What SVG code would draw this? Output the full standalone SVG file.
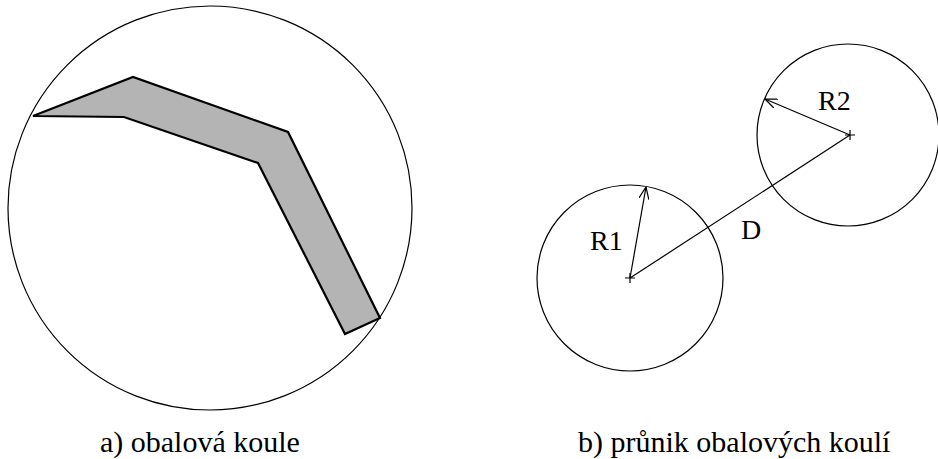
<svg xmlns="http://www.w3.org/2000/svg" width="938" height="459" viewBox="0 0 938 459">
<style>
.c{fill:none;stroke:#000;stroke-width:1.2}
.ln{fill:none;stroke:#000;stroke-width:1.2}
text{font-family:'Liberation Serif','Times New Roman',Tinos,'DejaVu Serif',serif;fill:#000}
.t{font-size:28px}
.cap{font-size:30px}
</style>
<defs>
<marker id="arr" viewBox="0 0 12 10" refX="12" refY="5" markerWidth="12" markerHeight="10" markerUnits="userSpaceOnUse" orient="auto">
<path d="M0,0 L12,5 L0,10" fill="none" stroke="#000" stroke-width="1.2"/>
</marker>
</defs>
<rect width="938" height="459" fill="#fff"/>
<g id="sphere-a">
<circle class="c" cx="210" cy="208" r="202"/>
<polygon points="33,116 133,77 288,132 380,318 345,334 258,163 124,117" fill="#b4b4b4" stroke="#000" stroke-width="2.2" stroke-linejoin="miter"/>
</g>
<g id="sphere-r1">
<circle class="c" cx="630" cy="278" r="93"/>
<path class="ln" d="M625,278 H635 M630,273 V283"/>
</g>
<g id="sphere-r2">
<circle class="c" cx="848" cy="135" r="91"/>
<path class="ln" d="M845,135 H855 M850,130 V140"/>
</g>
<g id="connectors">
<line class="ln" x1="630" y1="278" x2="646" y2="187" marker-end="url(#arr)"/>
<line class="ln" x1="850" y1="135" x2="765" y2="99" marker-end="url(#arr)"/>
<line class="ln" x1="630" y1="278" x2="850" y2="135"/>
</g>
<g id="labels">
<text class="t" x="590" y="250" font-family="Liberation Serif, serif">R1</text>
<text class="t" x="741" y="239" font-family="Liberation Serif, serif">D</text>
<text class="t" x="818" y="110" font-family="Liberation Serif, serif">R2</text>
<text class="cap" x="100" y="452" font-family="Liberation Serif, serif">a) obalová koule</text>
<text class="cap" x="578" y="452" font-family="Liberation Serif, serif">b) průnik obalových koulí</text>
</g>
</svg>
